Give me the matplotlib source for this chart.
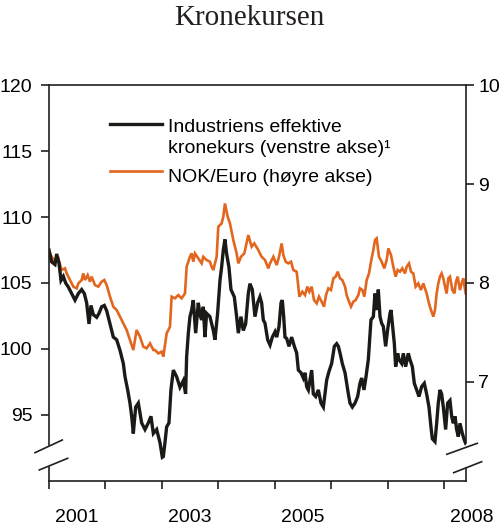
import matplotlib as mpl
mpl.use('Agg')
import matplotlib.pyplot as plt
from matplotlib.lines import Line2D

# Industriens effektive kronekurs (venstre akse), time in decimal years
ind_t = [2001.00, 2001.047, 2001.106, 2001.136, 2001.177, 2001.213, 2001.254, 2001.295, 2001.342, 2001.402,
         2001.461, 2001.52, 2001.579, 2001.626, 2001.667, 2001.709, 2001.744, 2001.785, 2001.845, 2001.886,
         2001.933, 2001.98, 2002.022, 2002.081, 2002.14, 2002.199, 2002.258, 2002.317, 2002.347, 2002.394,
         2002.435, 2002.465, 2002.494, 2002.536, 2002.583, 2002.642, 2002.701, 2002.76, 2002.807, 2002.849,
         2002.908, 2002.967, 2003.008, 2003.026, 2003.055, 2003.085, 2003.126, 2003.161, 2003.203, 2003.262,
         2003.321, 2003.38, 2003.421, 2003.439, 2003.469, 2003.498, 2003.528, 2003.557, 2003.599, 2003.646,
         2003.675, 2003.705, 2003.734, 2003.764, 2003.793, 2003.852, 2003.912, 2003.941, 2003.988, 2004.03,
         2004.059, 2004.089, 2004.118, 2004.148, 2004.189, 2004.225, 2004.284, 2004.325, 2004.355, 2004.402,
         2004.443, 2004.485, 2004.532, 2004.561, 2004.603, 2004.65, 2004.697, 2004.738, 2004.768, 2004.798,
         2004.828, 2004.875, 2004.917, 2004.958, 2005.005, 2005.035, 2005.076, 2005.112, 2005.135, 2005.159,
         2005.182, 2005.212, 2005.253, 2005.30, 2005.348, 2005.389, 2005.419, 2005.466, 2005.507, 2005.537,
         2005.566, 2005.596, 2005.625, 2005.655, 2005.684, 2005.726, 2005.773, 2005.82, 2005.862, 2005.891,
         2005.921, 2005.962, 2006.009, 2006.057, 2006.098, 2006.128, 2006.157, 2006.198, 2006.246, 2006.275,
         2006.305, 2006.334, 2006.376, 2006.423, 2006.47, 2006.511, 2006.541, 2006.582, 2006.618, 2006.659,
         2006.706, 2006.748, 2006.777, 2006.807, 2006.836, 2006.866, 2006.895, 2006.925, 2006.966, 2007.001,
         2007.043, 2007.061, 2007.084, 2007.12, 2007.143, 2007.179, 2007.202, 2007.25, 2007.279, 2007.32,
         2007.368, 2007.397, 2007.439, 2007.474, 2007.515, 2007.557, 2007.604, 2007.651, 2007.692, 2007.734,
         2007.769, 2007.793, 2007.84, 2007.87, 2007.899, 2007.929, 2007.958, 2007.988, 2008.029, 2008.065,
         2008.106, 2008.136, 2008.165, 2008.195, 2008.224, 2008.254, 2008.283, 2008.325, 2008.36, 2008.384]
ind_v = [107.5, 106.6, 106.4, 107.2, 106.5, 105.2, 105.5, 105.0, 104.7, 104.2,
         103.7, 104.2, 104.5, 104.2, 103.5, 101.9, 103.3, 102.6, 102.4, 102.7,
         103.2, 103.3, 102.9, 101.9, 100.9, 100.7, 99.9, 98.9, 97.9, 96.9,
         95.9, 94.9, 93.6, 95.6, 95.9, 94.4, 93.9, 94.4, 94.9, 93.6,
         93.9, 92.9, 91.8, 91.85, 92.9, 94.1, 94.4, 96.9, 98.4, 97.9,
         97.1, 97.6, 96.6, 99.4, 101.2, 102.45, 102.95, 103.7, 101.2, 103.5,
         102.6, 102.2, 103.2, 100.9, 102.7, 102.45, 101.4, 100.7, 102.7, 105.2,
         106.2, 107.5, 108.3, 107.2, 106.2, 104.5, 103.95, 102.45, 101.2, 102.45,
         101.4, 101.9, 104.2, 104.95, 104.5, 102.45, 103.5, 103.95, 103.5, 102.2,
         101.95, 100.7, 100.3, 100.9, 101.3, 100.9, 101.7, 103.5, 103.7, 102.45,
         100.9, 100.8, 100.2, 100.9, 100.2, 99.7, 98.4, 98.2, 97.8, 98.2,
         97.15, 96.9, 97.65, 98.4, 96.6, 96.4, 96.9, 95.9, 95.6, 96.6,
         97.65, 98.3, 98.9, 100.2, 100.4, 100.2, 99.7, 98.9, 98.2, 97.4,
         96.6, 95.9, 95.6, 95.9, 96.4, 97.4, 97.8, 96.9, 97.9, 99.2,
         102.2, 102.45, 104.2, 102.95, 104.5, 102.45, 101.95, 101.7, 100.2, 101.45,
         102.7, 102.95, 101.95, 100.4, 98.66, 99.67, 99.2, 98.9, 99.67, 98.66,
         99.67, 99.2, 98.66, 97.4, 96.9, 96.4, 97.15, 97.4, 96.6, 95.6,
         94.1, 93.2, 92.98, 94.37, 95.9, 96.9, 96.6, 95.6, 93.9, 95.9,
         96.1, 94.9, 94.37, 94.9, 93.9, 93.36, 94.37, 93.6, 93.1, 92.85]

# NOK/Euro (hoyre akse)
eur_t = [2001.00, 2001.047, 2001.106, 2001.165, 2001.224, 2001.283, 2001.313, 2001.372, 2001.431, 2001.49,
         2001.52, 2001.579, 2001.608, 2001.638, 2001.685, 2001.726, 2001.756, 2001.815, 2001.874, 2001.933,
         2001.98, 2002.022, 2002.081, 2002.14, 2002.199, 2002.258, 2002.317, 2002.376, 2002.435, 2002.494,
         2002.553, 2002.612, 2002.671, 2002.73, 2002.79, 2002.849, 2002.878, 2002.937, 2002.996, 2003.026,
         2003.085, 2003.144, 2003.173, 2003.232, 2003.291, 2003.35, 2003.41, 2003.439, 2003.498, 2003.528,
         2003.557, 2003.587, 2003.646, 2003.705, 2003.734, 2003.793, 2003.852, 2003.882, 2003.912, 2003.971,
         2004.00, 2004.059, 2004.089, 2004.118, 2004.166, 2004.207, 2004.266, 2004.325, 2004.355, 2004.402,
         2004.461, 2004.532, 2004.591, 2004.638, 2004.709, 2004.768, 2004.828, 2004.887, 2004.917, 2004.976,
         2005.035, 2005.076, 2005.123, 2005.153, 2005.194, 2005.241, 2005.289, 2005.33, 2005.389, 2005.419,
         2005.436, 2005.49, 2005.537, 2005.578, 2005.614, 2005.655, 2005.696, 2005.744, 2005.785, 2005.832,
         2005.874, 2005.909, 2005.95, 2005.997, 2006.039, 2006.08, 2006.116, 2006.157, 2006.198, 2006.246,
         2006.275, 2006.305, 2006.352, 2006.393, 2006.435, 2006.482, 2006.511, 2006.553, 2006.588, 2006.63,
         2006.671, 2006.706, 2006.748, 2006.777, 2006.807, 2006.848, 2006.895, 2006.942, 2006.984, 2007.013,
         2007.061, 2007.102, 2007.143, 2007.179, 2007.22, 2007.261, 2007.309, 2007.338, 2007.38, 2007.415,
         2007.456, 2007.498, 2007.545, 2007.592, 2007.634, 2007.692, 2007.734, 2007.769, 2007.811, 2007.84,
         2007.87, 2007.899, 2007.929, 2007.958, 2007.988, 2008.018, 2008.047, 2008.077, 2008.106, 2008.148,
         2008.183, 2008.213, 2008.242, 2008.283, 2008.313, 2008.342, 2008.384]
eur_v = [8.316, 8.265, 8.215, 8.249, 8.131, 8.148, 8.097, 8.03, 7.963, 7.946,
         7.996, 8.03, 8.097, 8.03, 8.08, 8.013, 8.064, 7.979, 7.963, 8.013,
         8.03, 7.979, 7.862, 7.76, 7.727, 7.66, 7.592, 7.525, 7.424, 7.323,
         7.525, 7.458, 7.357, 7.34, 7.39, 7.323, 7.323, 7.289, 7.306, 7.256,
         7.491, 7.558, 7.862, 7.845, 7.878, 7.845, 7.895, 8.164, 8.265, 8.299,
         8.215, 8.299, 8.249, 8.198, 8.265, 8.232, 8.215, 8.164, 8.131, 8.265,
         8.569, 8.602, 8.67, 8.804, 8.67, 8.602, 8.434, 8.299, 8.198, 8.265,
         8.299, 8.484, 8.367, 8.40, 8.333, 8.265, 8.232, 8.148, 8.198, 8.265,
         8.181, 8.265, 8.40, 8.282, 8.215, 8.198, 8.215, 8.131, 8.114, 7.963,
         7.862, 7.912, 7.878, 7.963, 7.912, 7.963, 7.828, 7.794, 7.862, 7.811,
         7.761, 7.878, 7.946, 7.929, 8.047, 8.064, 8.114, 8.047, 8.03, 7.963,
         7.878, 7.828, 7.761, 7.811, 7.828, 7.878, 7.946, 7.929, 7.862, 8.03,
         8.097, 8.215, 8.333, 8.434, 8.451, 8.265, 8.215, 8.148, 8.232, 8.35,
         8.282, 8.164, 8.064, 8.131, 8.114, 8.148, 8.097, 8.164, 8.198, 8.114,
         8.097, 7.963, 7.996, 7.929, 7.996, 7.895, 7.794, 7.727, 7.66, 7.727,
         7.895, 7.996, 8.064, 8.097, 8.047, 7.963, 7.895, 8.047, 8.064, 7.929,
         7.895, 8.013, 8.064, 7.929, 7.996, 8.047, 7.895]

year_ticks = [2001, 2002, 2003, 2004, 2005, 2006, 2007, 2008]
year_labels = ['2001', '2003', '2005', '2008']
left_ticks = [95, 100, 105, 110, 115, 120]
right_ticks = [7, 8, 9, 10]

label_ind = 'Industriens effektive\nkronekurs (venstre akse)\u00b9'
label_eur = 'NOK/Euro (h\u00f8yre akse)'

cblack = '#1c1a17'
corange = '#e2661e'
cspine = '#231f20'
fsize = 14
plt.rcParams['font.family'] = ['Liberation Sans', 'DejaVu Sans']

fig = plt.figure(figsize=(5, 5.32), dpi=100)
ax = fig.add_axes([0.098, 0.0959, 0.834, 0.7443])
ax2 = ax.twinx()

ax2.plot(eur_t, eur_v, color=corange, linewidth=1.9, solid_joinstyle='miter')
ax.plot(ind_t, ind_v, color=cblack, linewidth=2.4, solid_joinstyle='miter')
ax.set_zorder(ax2.get_zorder() + 1)
ax.patch.set_visible(False)

ax.set_xlim(2001.0, 2008.39)
ax.set_ylim(90, 120)
ax2.set_ylim(6, 10)

ax.set_yticks(left_ticks)
ax2.set_yticks(right_ticks)
ax.set_xticks(year_ticks)
ax.set_xticklabels([])
ax.tick_params(axis='y', direction='out', length=6, width=1.2, color=cspine, labelsize=fsize, pad=6)
ax.tick_params(axis='x', direction='out', length=6, width=1.2, color=cspine)
ax2.tick_params(axis='y', direction='out', length=6, width=1.2, color=cspine, labelsize=fsize, pad=3)

for lab in year_labels:
    ax.text(int(lab) + 0.5, -0.0934, lab, transform=ax.get_xaxis_transform(),
            ha='center', va='center', fontsize=fsize, clip_on=False)

# spines with axis break
for s in ['left', 'right', 'top', 'bottom']:
    ax.spines[s].set_linewidth(1.2)
    ax.spines[s].set_color(cspine)
    ax2.spines[s].set_visible(False)
ax.spines['right'].set_visible(False)
ax2.spines['right'].set_visible(True)
ax2.spines['right'].set_linewidth(1.2)
ax2.spines['right'].set_color(cspine)
ax.spines['left'].set_bounds(92.73, 120)
ax2.spines['right'].set_bounds(6 + 4 * 0.0952, 10)

brk = dict(transform=ax.transAxes, color=cspine, linewidth=1.2, clip_on=False)
ax.plot([0, 0], [0, 0.036], **brk)
ax.plot([1, 1], [0, 0.033], **brk)
ax.plot([-0.0336, 0.0319], [0.0715, 0.1035], **brk)
ax.plot([-0.0233, 0.0448], [0.0278, 0.0573], **brk)
ax.plot([0.954, 1.0271], [0.0674, 0.0952], **brk)
ax.plot([0.9705, 1.0376], [0.021, 0.0487], **brk)

# legend drawn by hand so the handle sits at the first text line
fig.add_artist(Line2D([0.22, 0.324], [0.7669, 0.7669], color=cblack, linewidth=2.4))
fig.add_artist(Line2D([0.22, 0.324], [0.6786, 0.6786], color=corange, linewidth=1.9))
fig.text(0.336, 0.7524, label_ind.split('\n')[0], fontsize=fsize, va='baseline')
fig.text(0.336, 0.7118, label_ind.split('\n')[1], fontsize=fsize, va='baseline')
fig.text(0.336, 0.6573, label_eur, fontsize=fsize, va='baseline')

fig.text(0.498, 0.953, 'Kronekursen', family=['Liberation Serif', 'DejaVu Serif'],
         fontsize=21, ha='center', va='baseline', color='#231f20')

fig.savefig('out.png', dpi=100, facecolor='white')
